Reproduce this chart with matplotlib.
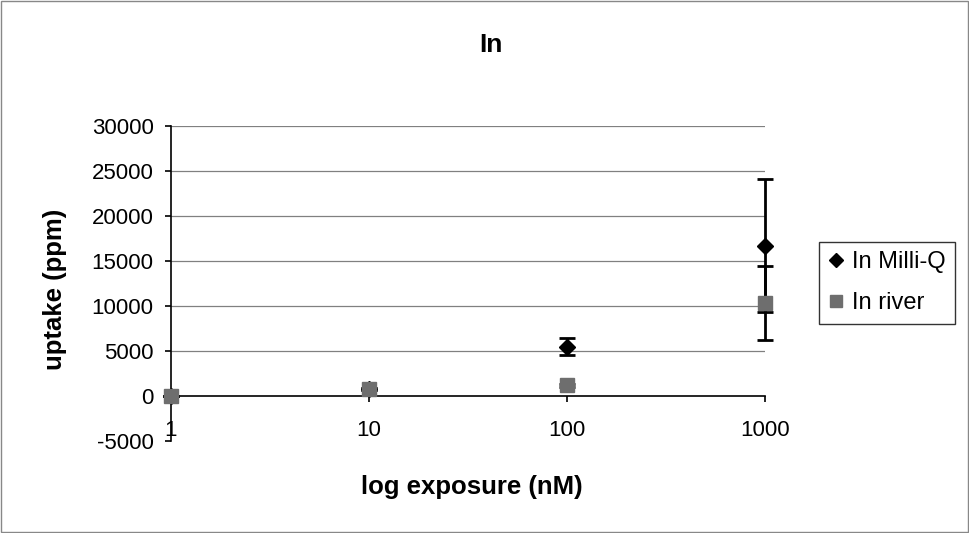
import matplotlib
matplotlib.use("Agg")
import matplotlib.pyplot as plt
from matplotlib.lines import Line2D
from matplotlib.patches import Rectangle

plt.rcParams['font.family'] = ['Liberation Sans', 'DejaVu Sans']

exposure = [1, 10, 100, 1000]
milliq = [0, 750, 5500, 16700]
milliq_err = [0, 100, 900, 7400]
river = [0, 800, 1200, 10300]
river_err = [0, 100, 150, 4100]
xtick_labels = ['1', '10', '100', '1000']
yticks = [-5000, 0, 5000, 10000, 15000, 20000, 25000, 30000]

W, H = 970, 533
fig = plt.figure(figsize=(9.7, 5.33), dpi=100)
fig.patch.set_facecolor('white')
fig.add_artist(Rectangle((0.001, 0.002), 0.997, 0.996, transform=fig.transFigure,
                         fill=False, edgecolor='#888888', linewidth=1))

ax = fig.add_axes([171 / W, 1 - 441 / H, (765 - 171) / W, (441 - 126) / H])
ax.set_xscale('log')
ax.set_xlim(1, 1000)
ax.set_ylim(-5000, 30000)

for y in yticks:
    if y > 0:
        ax.axhline(y, color='#808080', linewidth=0.9, zorder=0)

ax.spines['top'].set_visible(False)
ax.spines['right'].set_visible(False)
ax.spines['bottom'].set_position(('data', 0))
ax.spines['left'].set_linewidth(1.2)
ax.spines['bottom'].set_linewidth(1.2)

ax.set_yticks(yticks)
ax.set_yticklabels([str(v) for v in yticks])
ax.set_xticks(exposure)
ax.set_xticklabels(xtick_labels)
ax.minorticks_off()
ax.tick_params(axis='x', which='major', direction='out', length=4.5, width=1.2,
               pad=13, labelsize=16)
ax.tick_params(axis='y', which='major', direction='out', length=4.5, width=1.2,
               labelsize=16, pad=8)

ax.errorbar(exposure, milliq, yerr=milliq_err, fmt='D', color='black',
            markersize=8, ecolor='black', elinewidth=2, capsize=5.5, capthick=2,
            clip_on=False, zorder=3)
ax.errorbar(exposure, river, yerr=river_err, fmt='s', color='#6e6e6e',
            markersize=10, ecolor='black', elinewidth=2, capsize=5.5, capthick=2,
            clip_on=False, zorder=4)

fig.text(491 / W, 1 - 45 / H, 'In', fontsize=19, fontweight='bold',
         ha='center', va='center')
fig.text(472 / W, 1 - 487 / H, 'log exposure (nM)', fontsize=18.5,
         fontweight='bold', ha='center', va='center')
fig.text(55 / W, 1 - 289 / H, 'uptake (ppm)', fontsize=18.5,
         fontweight='bold', ha='center', va='center', rotation=90)

handles = [Line2D([], [], marker='D', color='black', linestyle='none', markersize=7),
           Line2D([], [], marker='s', color='#6e6e6e', linestyle='none', markersize=9)]
leg = fig.legend(handles, ['In Milli-Q', 'In river'], loc='upper left',
                 bbox_to_anchor=(819 / W, 1 - 242 / H), borderaxespad=0,
                 fontsize=17, frameon=True, fancybox=False, edgecolor='black',
                 handlelength=0.6, handletextpad=0.4, borderpad=0.4,
                 labelspacing=0.8)
leg.get_frame().set_linewidth(1)

fig.savefig('out.png', dpi=100)
